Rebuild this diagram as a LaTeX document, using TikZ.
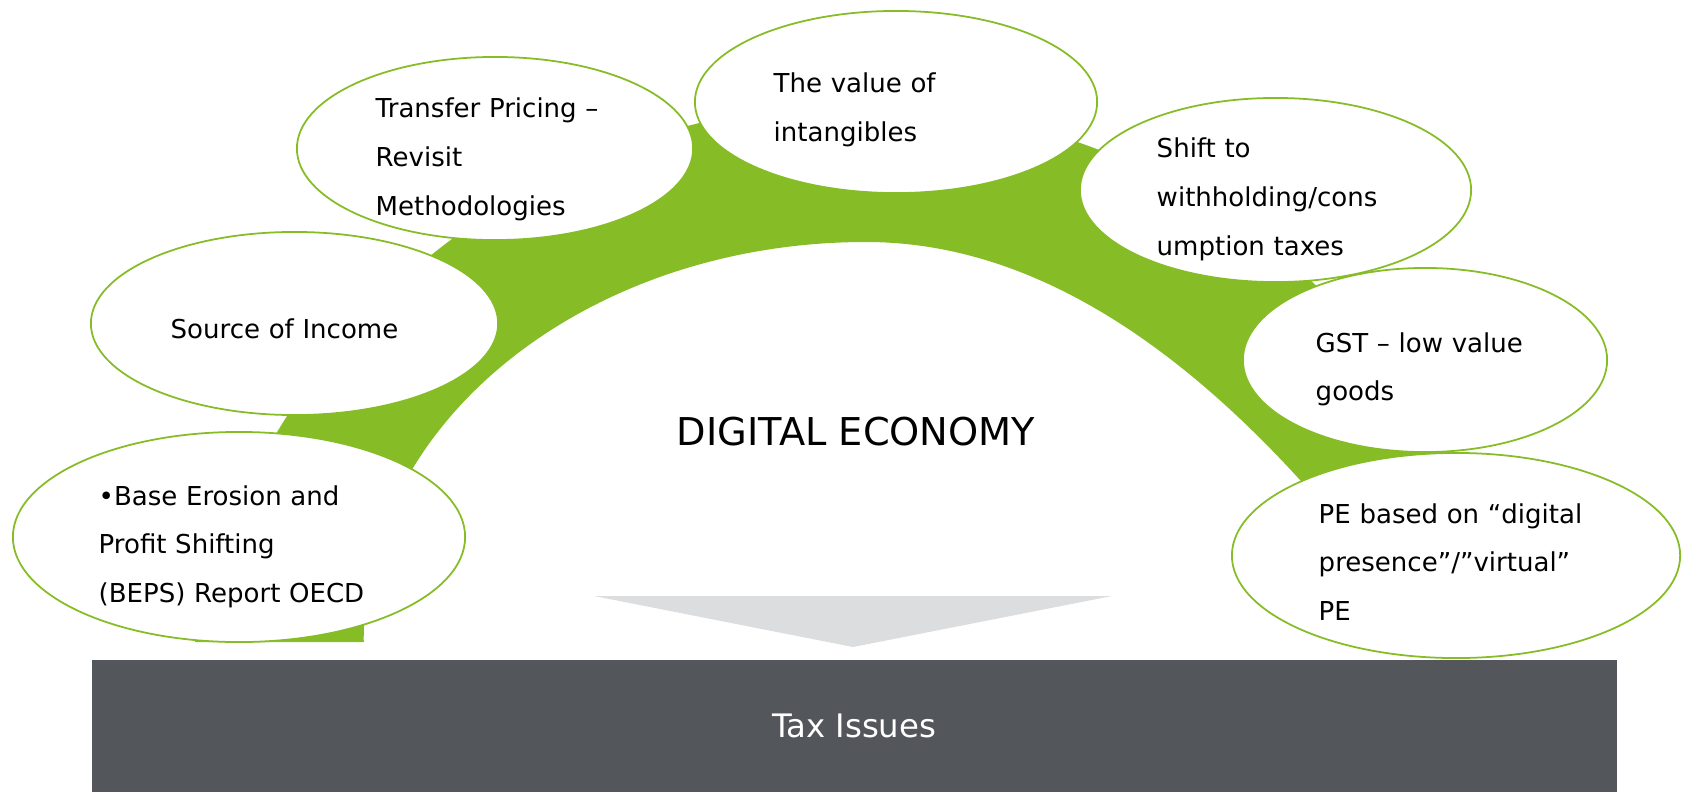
\documentclass[tikz,border=0pt]{standalone}
\usepackage{fontspec}
\setmainfont{DejaVu Sans}
\usetikzlibrary{shapes.geometric}
\definecolor{dgreen}{HTML}{86BC25}
\definecolor{arrowgrey}{HTML}{DCDDDE}
\definecolor{bargrey}{HTML}{53565A}
\tikzset{
  bubble/.style={ellipse, draw=dgreen, line width=0.5pt, fill=white, inner sep=0pt},
  itemtext/.style={anchor=base west, align=left, inner sep=0pt, text width=4cm,
    font=\fontsize{7.4}{13.8}\selectfont},
}
\begin{document}
\begin{tikzpicture}[x=0.01cm, y=0.01cm]
                \useasboundingbox (0,0) rectangle (1683,-791);
                % green band behind the bubbles
                \fill[dgreen] (195,-642) arc[start angle=168.2, end angle=29, radius=6.75cm]
                    -- (1460,-490) -- (1336,-521)
                    .. controls (1179,-335) and (1023,-242) .. (866,-242)
                    arc[start angle=90, end angle=180, x radius=5.02cm, y radius=3.98cm]
                    -- (364,-642) -- cycle;
                \node[font=\fontsize{10.9}{13}\selectfont, anchor=base] (digital) at (856,-445) {DIGITAL ECONOMY};
                % bubbles
                \node[bubble, minimum width=4.52cm, minimum height=2.10cm] (beps) at (239,-537) {};
                \node[bubble, minimum width=4.07cm, minimum height=1.83cm] (source) at (294.5,-323.5) {};
                \node[bubble, minimum width=3.96cm, minimum height=1.83cm] (transfer) at (495,-148.5) {};
                \node[bubble, minimum width=4.02cm, minimum height=1.82cm] (value) at (896,-102) {};
                \node[bubble, minimum width=3.91cm, minimum height=1.84cm] (shift) at (1275.5,-190) {};
                \node[bubble, minimum width=3.64cm, minimum height=1.84cm] (gst) at (1425,-360) {};
                \node[bubble, minimum width=4.48cm, minimum height=2.05cm] (pe) at (1456,-555.5) {};
                \node[itemtext] (bepstext) at (98,-505) {•Base Erosion and\\Profit Shifting\\(BEPS) Report OECD};
                \node[itemtext] (sourcetext) at (170,-338) {Source of Income};
                \node[itemtext] (transfertext) at (375,-118) {Transfer Pricing –\\Revisit\\Methodologies};
                \node[itemtext] (valuetext) at (773,-93) {The value of\\intangibles};
                \node[itemtext] (shifttext) at (1156,-158) {Shift to\\withholding/cons\\umption taxes};
                \node[itemtext] (gsttext) at (1315,-352) {GST – low value\\goods};
                \node[itemtext] (petext) at (1318,-523) {PE based on “digital\\presence”/”virtual”\\PE};
                % arrow and bar
                \fill[arrowgrey] (594,-596) -- (1112,-596) -- (853,-647) -- cycle;
                \node[fill=bargrey, minimum width=15.24cm, minimum height=1.32cm, inner sep=0pt, anchor=north west,
                    text=white, font=\fontsize{9.2}{11}\selectfont] (tax) at (91,-659) {Tax Issues};
\end{tikzpicture}
\end{document}
